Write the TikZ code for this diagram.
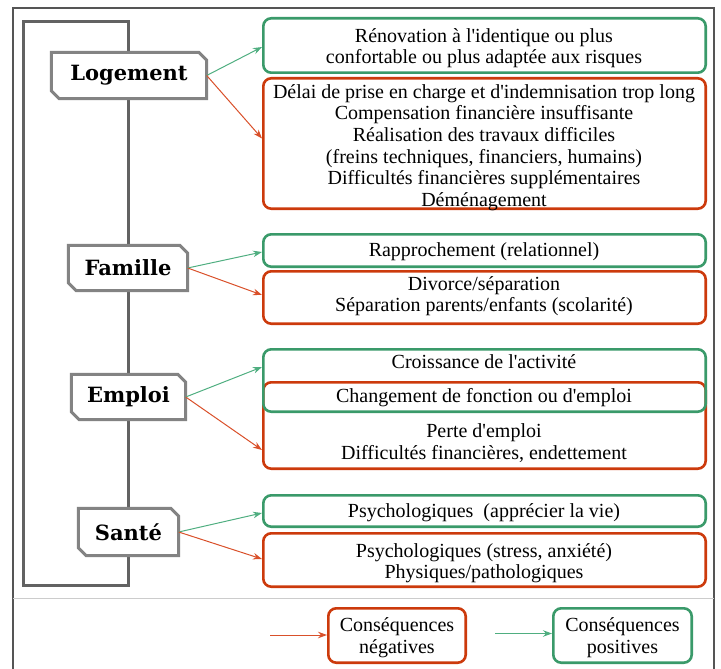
\documentclass[tikz,border=0pt]{standalone}
\usepackage{fontspec}
\setmainfont{Liberation Serif}
\newfontfamily\labfont{DejaVu Serif}
\usetikzlibrary{arrows.meta,calc}
\definecolor{cgreen}{HTML}{3A9A6A}
\definecolor{cred}{HTML}{CC3A0C}
\definecolor{cgreenarr}{HTML}{4FAE80}
\definecolor{credarr}{HTML}{D9502A}
\definecolor{bracketgrey}{HTML}{626262}
\definecolor{labgrey}{HTML}{838383}
\definecolor{framegrey}{HTML}{555555}
\definecolor{sepgrey}{HTML}{CCCCCC}
\newcommand\ap{\textquotesingle}
\newcommand\sline[1]{\strut #1}
\begin{document}
\begin{tikzpicture}[x=1pt,y=-1pt,
  posbox/.style={draw=cgreen,line width=2.6pt,rounded corners=8pt,minimum width=442.4pt,inner sep=0pt},
  negbox/.style={draw=cred,line width=2.6pt,rounded corners=8pt,minimum width=442.4pt,inner sep=0pt},
  legbox/.style={line width=2.6pt,rounded corners=8pt,inner sep=0pt,fill=white},
  txt/.style={align=center,inner sep=0pt,font=\fontsize{20}{21.6}\selectfont},
  labnode/.style={inner sep=0pt,font=\labfont\bfseries\fontsize{21}{24}\selectfont},
  labshape/.style={draw=labgrey,line width=3pt,fill=white,line join=miter},
  posarr/.style={draw=cgreenarr,line width=1pt,-{Stealth[length=9pt,width=6.5pt]}},
  negarr/.style={draw=credarr,line width=1pt,-{Stealth[length=9pt,width=6.5pt]}}
]
\useasboundingbox (0,0) rectangle (721,669);
% outer frame
\draw[framegrey,line width=1.3pt] (13,669) -- (13,8) -- (714,8) -- (714,669);
\draw[sepgrey,line width=1pt] (13,598) -- (714,598);
% bracket
\draw[bracketgrey,line width=3pt] (23,22) rectangle (128,585);

% category label nodes
\newcommand\labbox[1]{%
  \draw[labshape] (#1.north west) -- ($(#1.north east)+(-8,0)$) -- ($(#1.north east)+(0,8)$)
    -- (#1.south east) -- ($(#1.south west)+(8,0)$) -- ($(#1.south west)+(0,-8)$) -- cycle;}
\node[labnode,minimum width=155pt,minimum height=46pt] (log) at (129,75.5) {};
\labbox{log}
\node[labnode] at (log.center) (logt) {Logement};
\node[labnode,minimum width=119pt,minimum height=45pt] (fam) at (128,268) {};
\labbox{fam}
\node[labnode] at (fam.center) (famt) {Famille};
\node[labnode,minimum width=114pt,minimum height=45pt] (emp) at (128.5,397) {};
\labbox{emp}
\node[labnode] at (emp.center) (empt) {Emploi};
\node[labnode,minimum width=100pt,minimum height=47pt] (san) at (128.5,532) {};
\labbox{san}
\node[labnode] at (san.center) (sant) {Santé};

% consequence boxes
\node[posbox,minimum height=54.4pt] (g1) at (484.5,45.5) {};
\node[negbox,minimum height=130.4pt] (r1) at (484.5,143.5) {};
\node[posbox,minimum height=32.4pt] (g2) at (484.5,250.5) {};
\node[negbox,minimum height=52.4pt] (r2) at (484.5,297.5) {};
\node[negbox,minimum height=86.4pt] (r3) at (484.5,425.5) {};
\node[posbox,minimum height=62.4pt] (g3) at (484.5,380.5) {};
\node[posbox,minimum height=31.4pt] (g4) at (484.5,511) {};
\node[negbox,minimum height=53.4pt] (r4) at (484.5,560) {};

% texts
\node[txt] (t1) at (484,48.5) {\sline{Rénovation à l\ap identique ou plus}\\\sline{confortable ou plus adaptée aux risques}};
\node[txt] (t2) at (484,148) {\sline{Délai de prise en charge et d\ap indemnisation trop long}\\
  \sline{Compensation financière insuffisante}\\
  \sline{Réalisation des travaux difficiles}\\
  \sline{(freins techniques, financiers, humains)}\\
  \sline{Difficultés financières supplémentaires}\\
  \sline{Déménagement}};
\node[txt] (t3) at (484,252) {\sline{Rapprochement (relationnel)}};
\node[txt] (t4) at (484,296.5) {\sline{Divorce/séparation}\\\sline{Séparation parents/enfants (scolarité)}};
\node[txt] (t5) at (484,364.5) {\sline{Croissance de l\ap activité}};
\node[txt] (t6) at (484,398.5) {\sline{Changement de fonction ou d\ap emploi}};
\node[txt] (t7) at (484,444) {\sline{Perte d\ap emploi}\\\sline{Difficultés financières, endettement}};
\node[txt] (t8) at (484,513.5) {\sline{Psychologiques\ \ (apprécier la vie)}};
\node[txt] (t9) at (484,563.5) {\sline{Psychologiques (stress, anxiété)}\\\sline{Physiques/pathologiques}};

% arrows
\draw[posarr] (log.east) -- ($(g1.west)+(0,1.5)$);
\draw[negarr] (log.east) -- ($(r1.west)+(0,-5)$);
\draw[posarr] (fam.east) -- ($(g2.west)+(0,1.5)$);
\draw[negarr] (fam.east) -- ($(r2.west)+(0,-2.5)$);
\draw[posarr] (emp.east) -- ($(g3.west)+(0,-13.5)$);
\draw[negarr] (emp.east) -- ($(r3.west)+(0,24.5)$);
\draw[posarr] (san.east) -- ($(g4.west)+(0,2)$);
\draw[negarr] (san.east) -- ($(r4.west)+(0,-1)$);

% legend
\node[legbox,draw=cred,minimum width=137.4pt,minimum height=54.4pt] (lneg) at (397,635.5) {};
\node[txt] (lnegt) at (397,638) {\sline{Conséquences}\\\sline{négatives}};
\node[legbox,draw=cgreen,minimum width=138.4pt,minimum height=54.4pt] (lpos) at (622.5,635.5) {};
\node[txt] (lpost) at (622.5,638) {\sline{Conséquences}\\\sline{positives}};
\coordinate (lnegs) at (270,635);
\coordinate (lposs) at (495,633.5);
\draw[negarr] (lnegs) -- (lneg.west |- lnegs);
\draw[posarr] (lposs) -- (lpos.west |- lposs);
\end{tikzpicture}
\end{document}
